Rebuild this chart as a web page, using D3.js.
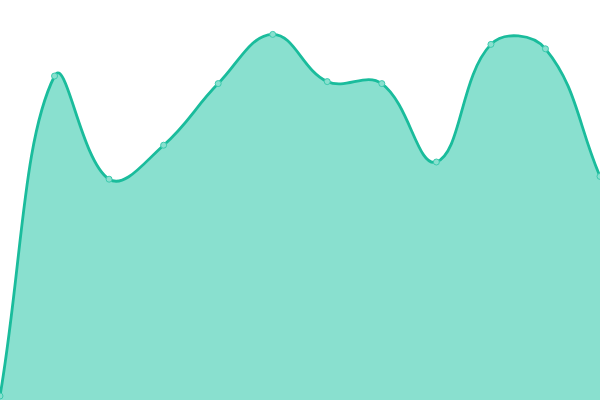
<!DOCTYPE html>
<html>
<head>
<meta charset="utf-8">
<script src="https://cdn.jsdelivr.net/npm/d3@7"></script>
<style>
  html, body { margin: 0; padding: 0; background: #fff; }
  svg { display: block; }
</style>
</head>
<body>
<script>
// data (0..100 scale)
const steps = [0, 1, 2, 3, 4, 5, 6, 7, 8, 9, 10, 11];
const values = [1, 81, 55.2, 63.7, 79.1, 91.4, 79.6, 79.1, 59.5, 88.9, 87.8, 55.9];

const width = 600;
const height = 400;
const tension = 0.4;

// distance-weighted spline, control points kept inside the plot box
function SplineCurve(context) { this._context = context; }
SplineCurve.prototype = {
  areaStart() { this._line = 0; },
  areaEnd() { this._line = NaN; },
  lineStart() { this._x = []; this._y = []; },
  point(x, y) { this._x.push(+x); this._y.push(+y); },
  lineEnd() {
    const xs = this._x, ys = this._y, n = xs.length, ctx = this._context;
    const clampX = v => Math.max(0, Math.min(width, v));
    const clampY = v => Math.max(0, Math.min(height, v));
    if (n) {
      if (this._line) ctx.lineTo(xs[0], ys[0]);
      else ctx.moveTo(xs[0], ys[0]);
      const cpIn = [], cpOut = [];
      for (let i = 0; i < n; i++) {
        const p = Math.max(0, i - 1), q = Math.min(n - 1, i + 1);
        const d01 = Math.hypot(xs[i] - xs[p], ys[i] - ys[p]);
        const d12 = Math.hypot(xs[q] - xs[i], ys[q] - ys[i]);
        let s01 = d01 / (d01 + d12), s12 = d12 / (d01 + d12);
        if (isNaN(s01)) s01 = 0;
        if (isNaN(s12)) s12 = 0;
        const fa = tension * s01, fb = tension * s12;
        const dx = xs[q] - xs[p], dy = ys[q] - ys[p];
        cpIn.push([clampX(xs[i] - fa * dx), clampY(ys[i] - fa * dy)]);
        cpOut.push([clampX(xs[i] + fb * dx), clampY(ys[i] + fb * dy)]);
      }
      for (let i = 0; i < n - 1; i++) {
        ctx.bezierCurveTo(cpOut[i][0], cpOut[i][1], cpIn[i + 1][0], cpIn[i + 1][1], xs[i + 1], ys[i + 1]);
      }
    }
    if (this._line || (this._line !== 0 && n === 1)) ctx.closePath();
    this._line = 1 - this._line;
  }
};
const curve = context => new SplineCurve(context);

const svg = d3.select('body').append('svg')
  .attr('width', width)
  .attr('height', height);

const xScale = d3.scaleLinear()
  .domain([0, steps.length - 1])
  .range([0, width]);

const yScale = d3.scaleLinear()
  .domain([0, 100])
  .range([height, 0]);

const data = steps.map((s, i) => ({ step: s, value: values[i] }));

const area = d3.area()
  .x(d => xScale(d.step))
  .y0(height)
  .y1(d => yScale(d.value))
  .curve(curve);

const line = d3.line()
  .x(d => xScale(d.step))
  .y(d => yScale(d.value))
  .curve(curve);

svg.append('path')
  .datum(data)
  .attr('d', area)
  .attr('fill', '#89e0cf');

svg.append('path')
  .datum(data)
  .attr('d', line)
  .attr('fill', 'none')
  .attr('stroke', '#1abc9c')
  .attr('stroke-width', 2.8);

svg.selectAll('circle')
  .data(data)
  .enter().append('circle')
  .attr('cx', d => xScale(d.step))
  .attr('cy', d => yScale(d.value))
  .attr('r', 3)
  .attr('fill', '#89e0cf')
  .attr('stroke', '#3ccaae')
  .attr('stroke-width', 1);
</script>
</body>
</html>
